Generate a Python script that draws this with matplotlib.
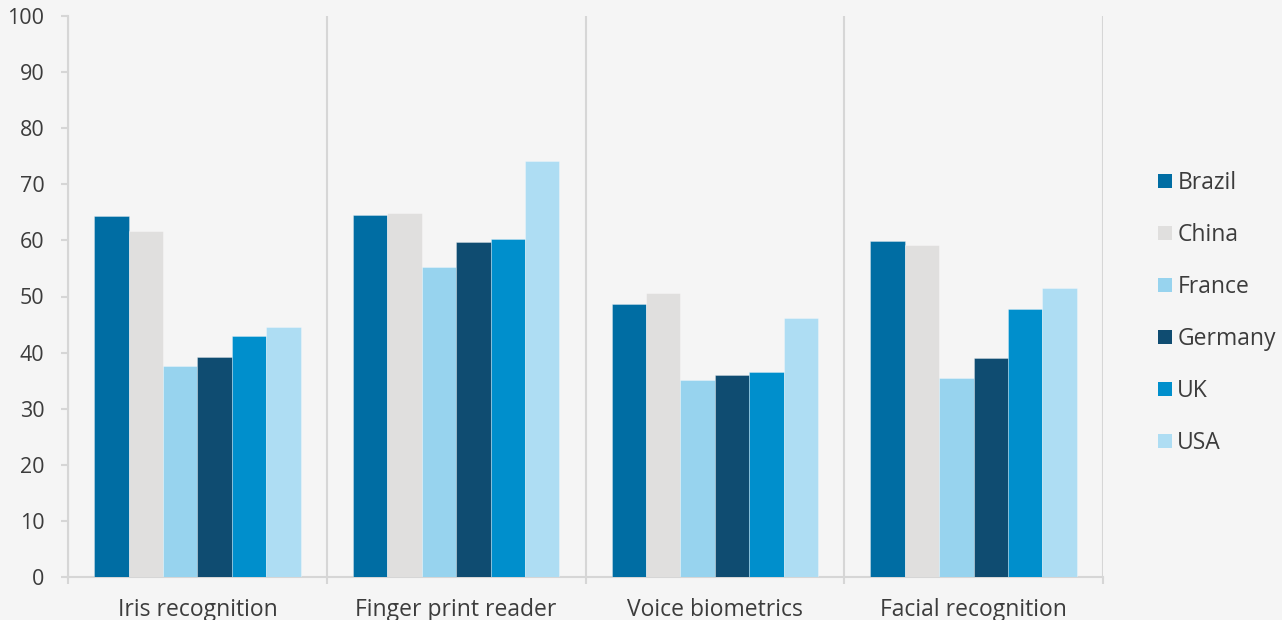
import numpy as np
import matplotlib
matplotlib.use("Agg")
import matplotlib.pyplot as plt
from matplotlib.patches import Patch

plt.rcParams['font.family'] = ['Open Sans', 'DejaVu Sans']

categories = ["Iris recognition", "Finger print reader", "Voice biometrics", "Facial recognition"]
countries = ["Brazil", "China", "France", "Germany", "UK", "USA"]
brazil = [64.4, 64.6, 48.7, 59.9]
china = [61.7, 64.8, 50.6, 59.2]
france = [37.7, 55.2, 35.1, 35.5]
germany = [39.3, 59.8, 36.0, 39.1]
uk = [43.0, 60.3, 36.6, 47.7]
usa = [44.5, 74.2, 46.2, 51.6]
series = [brazil, china, france, germany, uk, usa]
colors = ["#006DA3", "#E0DFDE", "#97D3EE", "#0F4C71", "#008FCC", "#AEDDF3"]
yticks = [0, 10, 20, 30, 40, 50, 60, 70, 80, 90, 100]

bg = "#F5F5F5"
line_col = "#D6D6D6"
text_col = "#3C3C3C"

fig = plt.figure(figsize=(12.82, 6.20), dpi=100, facecolor=bg)
ax = fig.add_axes([68 / 1282, 1 - 577 / 620, (1103 - 68) / 1282, (577 - 16) / 620])
ax.set_facecolor(bg)

x = np.arange(len(categories))
w = 0.133
for j, (vals, c) in enumerate(zip(series, colors)):
    ax.bar(x + (j - 2.5) * w, vals, width=w, color=c, label=countries[j],
           edgecolor=(1, 1, 1, 0.35), linewidth=0.6, zorder=3)

ax.set_xlim(-0.5, len(categories) - 0.5)
ax.set_ylim(0, 100)
ax.set_yticks(yticks)
ax.set_xticks(x)
ax.set_xticklabels(categories)
ax.set_xticks(np.arange(len(categories) + 1) - 0.5, minor=True)

ax.grid(True, axis='x', which='minor', color=line_col, linewidth=1.5, zorder=1)
ax.grid(False, axis='x', which='major')
ax.grid(False, axis='y')

for side in ['top', 'right']:
    ax.spines[side].set_visible(False)
for side in ['left', 'bottom']:
    ax.spines[side].set_color(line_col)
    ax.spines[side].set_linewidth(1.5)

ax.tick_params(axis='y', direction='out', length=5, width=1.5, color=line_col,
               labelsize=15.5, labelcolor=text_col, pad=12)
ax.tick_params(axis='x', which='major', length=0, labelsize=16.5, labelcolor=text_col, pad=15)
ax.tick_params(axis='x', which='minor', direction='out', length=5, width=1.5, color=line_col)

handles = [Patch(facecolor=c, edgecolor='none', label=n) for c, n in zip(colors, countries)]
leg = fig.legend(handles=handles, loc='center left', bbox_to_anchor=(1147 / 1282, 1 - 313 / 620),
                 frameon=False, fontsize=16.5, labelspacing=1.22, handlelength=0.57,
                 handleheight=0.57, handletextpad=0.25, borderpad=0)
for t in leg.get_texts():
    t.set_color(text_col)

fig.savefig("out.png", dpi=100, facecolor=bg)
